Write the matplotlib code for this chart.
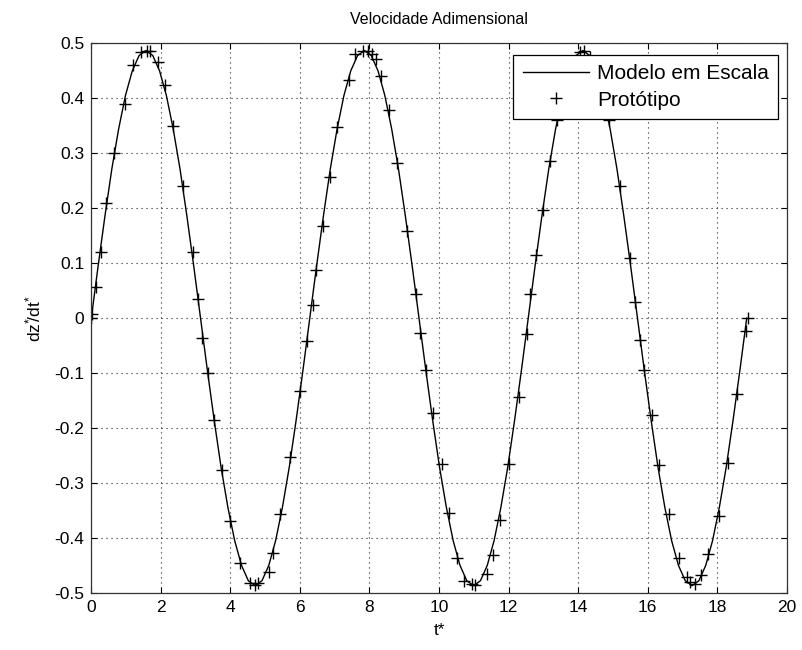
import numpy as np
import matplotlib
matplotlib.use('Agg')
import matplotlib.pyplot as plt

plt.rcParams['font.family'] = ['Liberation Sans', 'DejaVu Sans']
plt.rcParams['mathtext.default'] = 'regular'

# model curve: three periods of the dimensionless velocity, 16 samples per period
v_modelo = [0.000, 0.095, 0.186, 0.271, 0.344, 0.405, 0.450, 0.478,
            0.487, 0.478, 0.450, 0.405, 0.344, 0.271, 0.186, 0.095,
            0.000, -0.095, -0.186, -0.271, -0.344, -0.405, -0.450, -0.478,
            -0.487, -0.478, -0.450, -0.405, -0.344, -0.271, -0.186, -0.095,
            0.000, 0.095, 0.186, 0.271, 0.344, 0.405, 0.450, 0.478,
            0.487, 0.478, 0.450, 0.405, 0.344, 0.271, 0.186, 0.095,
            0.000, -0.095, -0.186, -0.271, -0.344, -0.405, -0.450, -0.478,
            -0.487, -0.478, -0.450, -0.405, -0.344, -0.271, -0.186, -0.095,
            0.000, 0.095, 0.186, 0.271, 0.344, 0.405, 0.450, 0.478,
            0.487, 0.478, 0.450, 0.405, 0.344, 0.271, 0.186, 0.095,
            0.000, -0.095, -0.186, -0.271, -0.344, -0.405, -0.450, -0.478,
            -0.487, -0.478, -0.450, -0.405, -0.344, -0.271, -0.186, -0.095,
            0.000]
t_modelo = np.linspace(0, 18.85, len(v_modelo))

# prototype samples
t_proto = [0.00, 0.02, 0.14, 0.27, 0.43, 0.65, 0.96, 1.20, 1.44, 1.59,
           1.68, 1.92, 2.12, 2.36, 2.64, 2.93, 3.08, 3.19, 3.37, 3.54,
           3.75, 3.99, 4.28, 4.57, 4.72, 4.80, 5.10, 5.24, 5.43, 5.72,
           6.00, 6.20, 6.37, 6.47, 6.65, 6.87, 7.08, 7.40, 7.59, 7.82,
           7.97, 8.07, 8.19, 8.33, 8.55, 8.80, 9.09, 9.34, 9.44, 9.63,
           9.84, 10.08, 10.30, 10.51, 10.72, 10.94, 11.03, 11.37, 11.54, 11.75,
           12.02, 12.31, 12.52, 12.63, 12.78, 12.98, 13.19, 13.40, 13.62, 13.85,
           14.05, 14.18, 14.35, 14.55, 14.75, 14.90, 15.20, 15.48, 15.65, 15.79,
           15.91, 16.14, 16.33, 16.62, 16.89, 17.13, 17.22, 17.35, 17.54, 17.75,
           18.04, 18.31, 18.56, 18.82, 18.88]
v_proto = [0.000, 0.008, 0.056, 0.120, 0.210, 0.300, 0.390, 0.460, 0.485, 0.487,
           0.487, 0.466, 0.425, 0.350, 0.240, 0.121, 0.035, -0.036, -0.100, -0.186,
           -0.276, -0.370, -0.445, -0.483, -0.486, -0.483, -0.463, -0.427, -0.357, -0.253,
           -0.133, -0.042, 0.023, 0.088, 0.167, 0.257, 0.348, 0.433, 0.480, 0.487,
           0.486, 0.480, 0.472, 0.440, 0.378, 0.282, 0.159, 0.043, -0.027, -0.095,
           -0.173, -0.265, -0.354, -0.436, -0.478, -0.484, -0.486, -0.466, -0.431, -0.367,
           -0.265, -0.144, -0.029, 0.043, 0.114, 0.197, 0.286, 0.360, 0.420, 0.465,
           0.485, 0.487, 0.476, 0.445, 0.400, 0.360, 0.240, 0.110, 0.030, -0.040,
           -0.095, -0.176, -0.267, -0.357, -0.436, -0.472, -0.481, -0.484, -0.467, -0.429,
           -0.361, -0.263, -0.138, -0.024, 0.000]

xticks = [0, 2, 4, 6, 8, 10, 12, 14, 16, 18, 20]
yticks = [-0.5, -0.4, -0.3, -0.2, -0.1, 0, 0.1, 0.2, 0.3, 0.4, 0.5]

fig = plt.figure(figsize=(8.03, 6.5), dpi=100)
ax = fig.add_axes([0.1137, 0.088, 0.866, 0.8452])

ax.plot(t_modelo, v_modelo, color='black', linewidth=1, label='Modelo em Escala')
ax.plot(t_proto, v_proto, linestyle='none', marker='+', markersize=8,
        markeredgewidth=1, color='black', label='Protótipo')

ax.set_xlim(0, 20)
ax.set_ylim(-0.5, 0.5)
ax.set_xticks(xticks)
ax.set_xticklabels([str(x) for x in xticks])
ax.set_yticks(yticks)
ax.set_yticklabels(['%g' % y for y in yticks])
ax.tick_params(direction='in', top=True, right=True, length=4, width=0.8,
               labelsize=12.5, colors='black', pad=5)
ax.grid(True, color='#222222', linestyle=(0, (1, 3.5)), linewidth=0.8)
for s in ax.spines.values():
    s.set_linewidth(0.9)
    s.set_color('#333333')

ax.set_title('Velocidade Adimensional', fontsize=11.5, pad=14)
ax.set_xlabel('t*', fontsize=12.5, labelpad=6)
ax.set_ylabel(r'$dz^{\!*}\!\!/dt^{\!*}$', fontsize=12.5, labelpad=8)

leg = ax.legend(loc='upper right', bbox_to_anchor=(0.9875, 0.979), borderaxespad=0,
                fontsize=15, handlelength=3.2, handletextpad=0.35, labelspacing=0.35,
                borderpad=0.45, fancybox=False, framealpha=1, edgecolor='black')
leg.get_frame().set_linewidth(0.9)

fig.savefig('out.png', dpi=100)
